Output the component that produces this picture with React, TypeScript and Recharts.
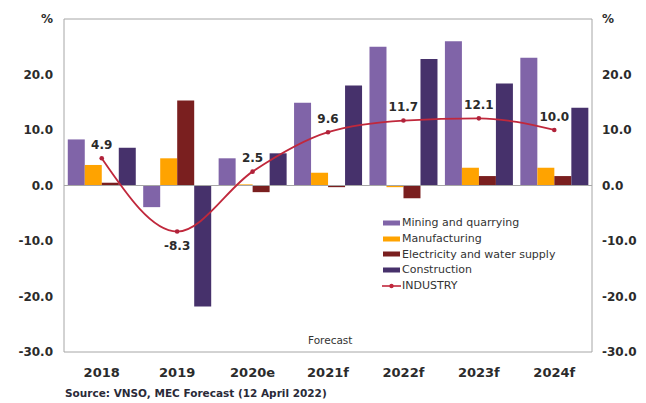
import React from 'react';
import {
  ComposedChart,
  Bar,
  Line,
  XAxis,
  YAxis,
  Legend,
  ReferenceLine,
  LabelList,
} from 'recharts';

const years = ['2018', '2019', '2020e', '2021f', '2022f', '2023f', '2024f'];
const mining = [8.3, -3.9, 4.9, 14.9, 25.0, 26.0, 23.0];
const manufacturing = [3.7, 4.9, 0.2, 2.3, -0.3, 3.2, 3.2];
const electricity = [0.5, 15.3, -1.2, -0.3, -2.3, 1.7, 1.7];
const construction = [6.8, -21.8, 5.8, 18.0, 22.8, 18.4, 14.0];
const industry = [4.9, -8.3, 2.5, 9.6, 11.7, 12.1, 10.0];
const yTicks = [-30, -20, -10, 0, 10, 20, 30];
const legendOrder = ['Mining and quarrying', 'Manufacturing', 'Electricity and water supply', 'Construction', 'INDUSTRY'];

const chartData = years.map((year, i) => ({
  year,
  mining: mining[i],
  manufacturing: manufacturing[i],
  electricity: electricity[i],
  construction: construction[i],
  industry: industry[i],
}));

const FONT = '"DejaVu Sans", sans-serif';
const AXIS_GRAY = '#a6a6a6';
const TEXT = '#2b2b2b';

const fmtTick = (v: number) => (v === 30 ? '%' : v.toFixed(1));

const renderLegend = (props: any) => {
  const items = [...(props.payload || [])].sort(
    (a: any, b: any) => legendOrder.indexOf(a.value) - legendOrder.indexOf(b.value)
  );
  return (
    <div style={{ fontFamily: FONT, fontSize: 11, color: '#333' }}>
      {items.map((entry: any) => (
        <div key={entry.value} style={{ display: 'flex', alignItems: 'center', height: 15.7 }}>
          <svg width={19} height={8} style={{ marginRight: 1 }}>
            {entry.type === 'line' ? (
              <g>
                <line x1={0} y1={4} x2={19} y2={4} stroke={entry.color} strokeWidth={1.6} />
                <circle cx={9.5} cy={4} r={2.2} fill={entry.color} />
              </g>
            ) : (
              <rect x={1} y={1.5} width={17} height={5} fill={entry.color} />
            )}
          </svg>
          <span>{entry.value}</span>
        </div>
      ))}
    </div>
  );
};

const renderIndustryLabel = (props: any) => {
  const { x, y, value } = props;
  const ty = value < 0 ? y + 18.5 : y - 9.5;
  return (
    <text
      x={x}
      y={ty}
      textAnchor="middle"
      fontFamily={FONT}
      fontSize={12}
      fontWeight="bold"
      fill={TEXT}
    >
      {value.toFixed(1)}
    </text>
  );
};

const App: React.FC = () => {
  return (
    <div style={{ position: 'relative', width: 630, height: 395 }}>
      <ComposedChart
        width={630}
        height={374}
        data={chartData}
        margin={{ top: 11, right: 10, left: 10, bottom: 0 }}
        barCategoryGap="5%"
        barGap={0}
      >
        <XAxis
          dataKey="year"
          height={30}
          stroke={AXIS_GRAY}
          tickLine={false}
          tickSize={0}
          tickMargin={16}
          tick={{ fontFamily: FONT, fontSize: 13, fontWeight: 'bold', fill: TEXT }}
        />
        <YAxis
          yAxisId="left"
          width={46}
          domain={[-30, 30]}
          ticks={yTicks}
          tickFormatter={fmtTick}
          stroke={AXIS_GRAY}
          tickLine={false}
          tickSize={0}
          tickMargin={11}
          tick={{ fontFamily: FONT, fontSize: 12, fontWeight: 'bold', fill: TEXT }}
        />
        <YAxis
          yAxisId="right"
          orientation="right"
          width={36}
          domain={[-30, 30]}
          ticks={yTicks}
          tickFormatter={fmtTick}
          stroke={AXIS_GRAY}
          tickLine={false}
          tickSize={0}
          tickMargin={10}
          tick={{ fontFamily: FONT, fontSize: 12, fontWeight: 'bold', fill: TEXT, textAnchor: 'start' }}
        />
        <ReferenceLine yAxisId="left" y={30} stroke={AXIS_GRAY} strokeWidth={1} />
        <ReferenceLine yAxisId="left" y={0} stroke={AXIS_GRAY} strokeWidth={1} />
        <Legend
          layout="vertical"
          align="center"
          verticalAlign="middle"
          content={renderLegend}
          wrapperStyle={{ left: 374, top: 207, width: 220 }}
        />
        <Bar yAxisId="left" dataKey="mining" name="Mining and quarrying" fill="#8064a8" isAnimationActive={false} />
        <Bar yAxisId="left" dataKey="manufacturing" name="Manufacturing" fill="#ffa300" isAnimationActive={false} />
        <Bar yAxisId="left" dataKey="electricity" name="Electricity and water supply" fill="#7a1f1f" isAnimationActive={false} />
        <Bar yAxisId="left" dataKey="construction" name="Construction" fill="#46316b" isAnimationActive={false} />
        <Line
          yAxisId="right"
          type="monotone"
          dataKey="industry"
          name="INDUSTRY"
          stroke="#c0283c"
          strokeWidth={1.8}
          dot={{ r: 2.3, fill: '#b0223a', stroke: 'none' }}
          isAnimationActive={false}
        >
          <LabelList dataKey="industry" content={renderIndustryLabel} />
        </Line>
      </ComposedChart>
      <div
        style={{
          position: 'absolute',
          left: 300,
          top: 326,
          fontFamily: FONT,
          fontSize: 10.5,
          lineHeight: '12px',
          color: '#333',
        }}
      >
        Forecast
      </div>
      <div
        style={{
          position: 'absolute',
          left: 57,
          top: 379,
          fontFamily: FONT,
          fontSize: 10.5,
          fontWeight: 'bold',
          lineHeight: '12px',
          color: '#2a2a38',
          whiteSpace: 'nowrap',
        }}
      >
        Source: VNSO, MEC Forecast (12 April 2022)
      </div>
    </div>
  );
};

export default App;
